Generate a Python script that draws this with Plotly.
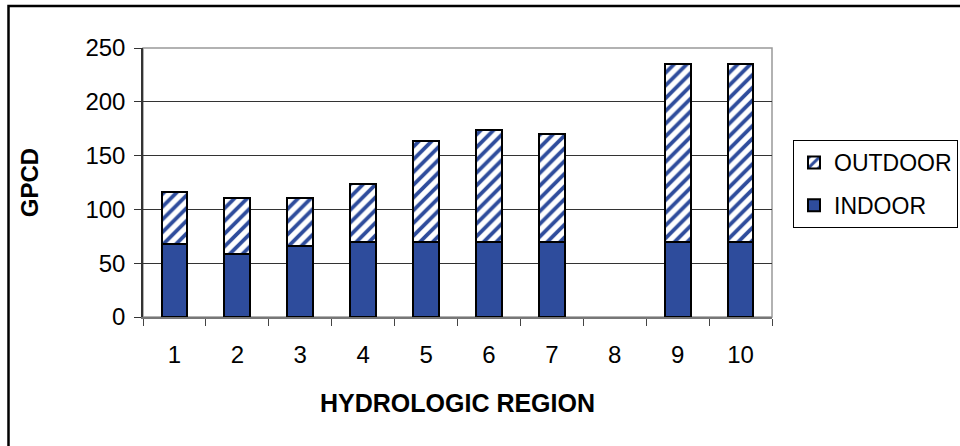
import plotly.graph_objects as go

regions = ["1", "2", "3", "4", "5", "6", "7", "8", "9", "10"]
indoor = [68, 58.5, 66, 70, 70, 70, 70, None, 70, 70]
outdoor = [48, 52.5, 45, 53.5, 94, 104, 100, None, 165, 165]
y_ticks = [0, 50, 100, 150, 200, 250]

W, H = 960, 446
L, R, T, B = 143, 772, 48, 317  # plot area in px

def px(x):
    return (x - L) / (R - L)

def py(y):
    return (B - y) / (B - T)

blue = "#2E4C9C"
font = "Liberation Sans, Arial, sans-serif"

fig = go.Figure()
fig.add_trace(go.Bar(
    x=regions, y=indoor, name="INDOOR", legendgroup="b", legendrank=2,
    marker=dict(color=blue, line=dict(color="black", width=2)),
))
fig.add_trace(go.Bar(
    x=regions, y=outdoor, name="OUTDOOR", legendgroup="a", legendrank=1,
    marker=dict(color="white", line=dict(color="black", width=2),
                pattern=dict(shape="/", fgcolor=blue, bgcolor="white",
                             fgopacity=1, size=9, solidity=0.42)),
))

fig.update_layout(
    width=W, height=H,
    barmode="stack", bargap=0.59,
    margin=dict(l=L, r=W - R, t=T, b=H - B, autoexpand=False),
    paper_bgcolor="white", plot_bgcolor="white",
    font=dict(family=font, size=23, color="black"),
    showlegend=True,
    legend=dict(
        x=px(793), y=py(140), xanchor="left", yanchor="top",
        traceorder="grouped", bordercolor="black", borderwidth=1,
        font=dict(size=23, family=font), bgcolor="white",
        itemwidth=30, tracegroupgap=10,
    ),
    xaxis=dict(
        type="category", tickson="boundaries", ticks="outside", ticklen=7,
        tickcolor="#444", showline=True, linecolor="#777", linewidth=1.5,
        mirror=False, showgrid=False,
        title=dict(text="<b>HYDROLOGIC REGION</b>", font=dict(size=25), standoff=28),
        tickfont=dict(size=24), ticklabelstandoff=15,
        automargin=False,
    ),
    yaxis=dict(
        range=[0, 250], tickvals=y_ticks, ticks="outside", ticklen=7,
        tickcolor="#333", showline=True, linecolor="#333", linewidth=1.5,
        showgrid=True, gridcolor="#333", gridwidth=1,
        zeroline=False,
        title=dict(text="<b>GPCD</b>", font=dict(size=24), standoff=40),
        tickfont=dict(size=24), ticklabelstandoff=4,
        automargin=False,
    ),
    shapes=[
        dict(type="rect", xref="paper", yref="paper", x0=0, y0=0, x1=1, y1=1,
             line=dict(color="#999", width=1.5), layer="below"),
        dict(type="rect", xref="paper", yref="paper",
             x0=px(8.5), y0=py(470), x1=px(990), y1=py(6),
             line=dict(color="black", width=2.5)),
    ],
)

fig.write_html("out.html", config={"displayModeBar": False},
               post_script="document.body.style.margin='0px';")
